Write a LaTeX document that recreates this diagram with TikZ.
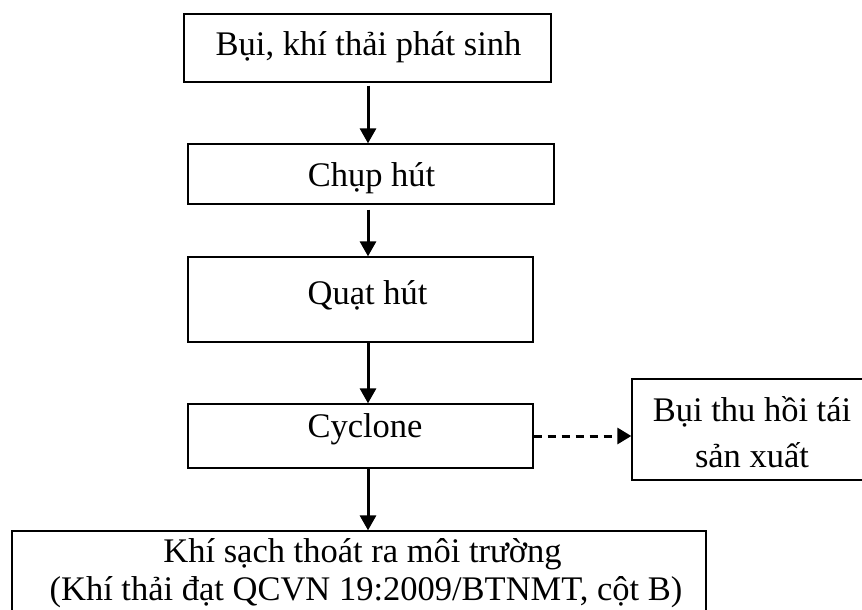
\documentclass[tikz,border=0pt]{standalone}
\usepackage{fontspec}
\setmainfont{Liberation Serif}
\usetikzlibrary{arrows.meta}

\tikzset{
  stepbox/.style={draw=black, line width=1.3pt, inner sep=0pt, rectangle},
  boxtext/.style={anchor=base, inner sep=0pt},
  flow/.style={line width=3pt, -{Triangle[length=15pt,width=16pt]}},
  recover/.style={line width=3pt, dash pattern=on 8pt off 6pt, -{Triangle[length=14pt,width=16pt]}}
}

\begin{document}
\begin{tikzpicture}[x=1pt, y=-1pt, font=\fontsize{34.5}{43}\selectfont]
  \useasboundingbox (0,0) rectangle (862,610);
  \clip (0,0) rectangle (862,610);

  % process boxes
  \node[stepbox, minimum width=367pt, minimum height=68pt]  (b1) at (367.5,48)  {};
  \node[stepbox, minimum width=366pt, minimum height=60pt]  (b2) at (371,174)   {};
  \node[stepbox, minimum width=345pt, minimum height=85pt]  (b3) at (360.5,299.5) {};
  \node[stepbox, minimum width=345pt, minimum height=64pt]  (b4) at (360.5,436) {};
  \node[stepbox, minimum width=240pt, minimum height=101pt] (b5) at (752,429.5) {};
  \node[stepbox, minimum width=694pt, minimum height=119pt] (b6) at (359,590.5) {};

  % box texts
  \node[boxtext] (t1)  at (368.5,56) {Bụi, khí thải phát sinh};
  \node[boxtext] (t2)  at (371.5,186) {Chụp hút};
  \node[boxtext] (t3)  at (367.5,304) {Quạt hút};
  \node[boxtext] (t4)  at (365,437) {Cyclone};
  \node[boxtext] (t5a) at (752,421) {Bụi thu hồi tái};
  \node[boxtext] (t5b) at (752,467) {sản xuất};
  \node[boxtext] (t6a) at (362.5,562) {Khí sạch thoát ra môi trường};
  \node[boxtext] (t6b) at (366,600) {(Khí thải đạt QCVN 19:2009/BTNMT, cột B)};

  % main flow axis
  \coordinate (axis) at (368,0);

  \draw[flow, shorten <=3pt] (b1.south -| axis) -- (b2.north -| axis);
  \draw[flow, shorten <=5pt] (b2.south -| axis) -- (b3.north -| axis);
  \draw[flow] (b3.south -| axis) -- (b4.north -| axis);
  \draw[flow] (b4.south -| axis) -- (b6.north -| axis);

  % recovered dust branch
  \draw[recover] (b4.east) -- (b4.east -| b5.west);
\end{tikzpicture}
\end{document}
